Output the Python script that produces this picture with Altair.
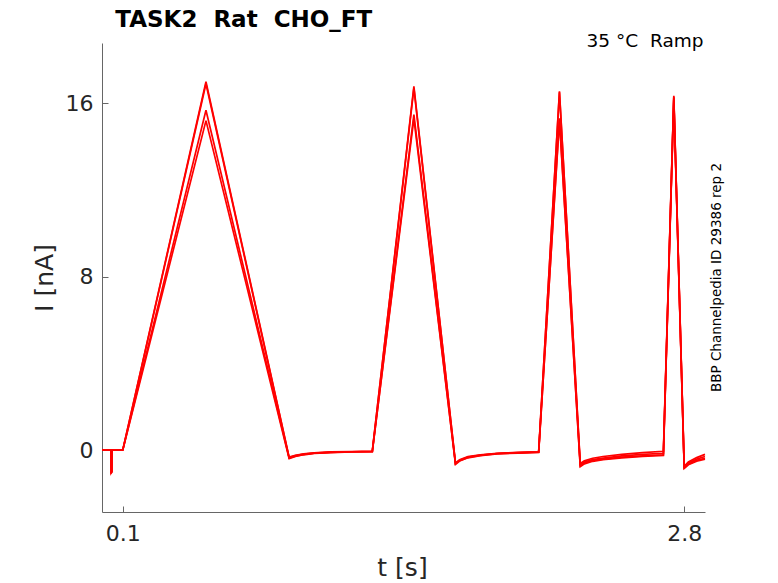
import altair as alt
import pandas as pd

# ---- data ----
t_s = [0.0, 0.043, 0.044, 0.047, 0.048, 0.1, 0.5, 0.9, 0.93, 0.97, 1.02, 1.1, 1.2, 1.3,
       1.5, 1.7, 1.72, 1.76, 1.82, 1.9, 2.0, 2.1, 2.2, 2.3, 2.32, 2.36, 2.41, 2.5, 2.6, 2.7,
       2.75, 2.8, 2.82, 2.86, 2.9]

sweep1 = [0, 0, -1.05, -1.0, 0, 0, 17.0, -0.33, -0.24, -0.18, -0.13, -0.09, -0.07, -0.05,
          16.78, -0.6, -0.45, -0.3, -0.22, -0.15, -0.11, -0.08, 16.55, -0.62, -0.5, -0.38,
          -0.3, -0.2, -0.12, -0.06, 16.34, -0.75, -0.55, -0.35, -0.2]
sweep2 = [0, 0, -1.02, -0.98, 0, 0, 16.9, -0.35, -0.26, -0.19, -0.14, -0.1, -0.08, -0.06,
          16.7, -0.62, -0.47, -0.32, -0.23, -0.16, -0.12, -0.09, 16.5, -0.68, -0.56, -0.44,
          -0.37, -0.27, -0.2, -0.15, 16.3, -0.79, -0.6, -0.42, -0.3]
sweep3 = [0, 0, -1.08, -1.02, 0, 0, 15.68, -0.37, -0.28, -0.2, -0.15, -0.11, -0.08, -0.07,
          15.48, -0.64, -0.49, -0.34, -0.25, -0.17, -0.13, -0.1, 15.3, -0.73, -0.6, -0.48,
          -0.42, -0.33, -0.27, -0.22, 16.25, -0.82, -0.65, -0.48, -0.38]
sweep4 = [0, 0, -1.06, -1.0, 0, 0, 15.2, -0.4, -0.3, -0.22, -0.16, -0.12, -0.09, -0.08,
          15.3, -0.66, -0.51, -0.36, -0.26, -0.18, -0.14, -0.11, 15.2, -0.77, -0.64, -0.52,
          -0.45, -0.36, -0.3, -0.25, 16.15, -0.85, -0.68, -0.52, -0.42]

x_ticks = [0.1, 2.8]
y_ticks = [0, 8, 16]
x_domain = [0.0, 2.9]
y_domain = [-2.86, 18.78]

NB = "\u00a0"
title_text = "TASK2" + NB + " Rat" + NB + " CHO_FT"
subtitle_text = "35 °C" + NB + " Ramp"
side_text = "BBP Channelpedia ID 29386 rep 2"

rows = []
for name, vals in [("1", sweep1), ("2", sweep2), ("3", sweep3), ("4", sweep4)]:
    for t, v in zip(t_s, vals):
        rows.append({"t": t, "I": v, "sweep": name})
df = pd.DataFrame(rows)

W, H = 603, 469
FONT = "DejaVu Sans"

xscale = alt.Scale(domain=x_domain, nice=False, zero=False)
yscale = alt.Scale(domain=y_domain, nice=False, zero=False)

lines = alt.Chart(df).mark_line(color="#ff0000", strokeWidth=1.7).encode(
    x=alt.X("t:Q", scale=xscale,
            axis=alt.Axis(orient="bottom", values=x_ticks, format=".1f", ticks=False, tickSize=0,
                          grid=False, domainColor="#666666", domainWidth=1,
                          labelFontSize=22, labelColor="#262626", labelFont=FONT,
                          labelPadding=11, title="t [s]", titleFontSize=25,
                          titleFont=FONT, titleFontWeight="normal", titleColor="#262626",
                          titleBaseline="alphabetic", titleY=63.5, titleX=300)),
    y=alt.Y("I:Q", scale=yscale,
            axis=alt.Axis(orient="left", values=y_ticks, format="d", ticks=False, tickSize=0,
                          grid=False, domainColor="#666666", domainWidth=1,
                          labelFontSize=22, labelColor="#262626", labelFont=FONT,
                          labelPadding=9, title="I [nA]", titleFontSize=25,
                          titleFont=FONT, titleFontWeight="normal", titleColor="#262626",
                          titleAngle=270, titleBaseline="alphabetic", titleX=-49.5,
                          titleY=H / 2)),
    detail="sweep:N",
)

tick_layer = alt.Chart(df).mark_line(strokeOpacity=0).encode(
    x=alt.X("t:Q", scale=xscale,
            axis=alt.Axis(orient="top", offset=-H, values=x_ticks, labels=False, domain=False,
                          grid=False, ticks=True, tickSize=6, tickColor="#666666",
                          title=None)),
    y=alt.Y("I:Q", scale=yscale,
            axis=alt.Axis(orient="right", offset=-W, values=y_ticks, labels=False, domain=False,
                          grid=False, ticks=True, tickSize=6, tickColor="#666666",
                          title=None)),
    detail="sweep:N",
)

ttl = alt.Chart(pd.DataFrame({"label": [title_text]})).mark_text(
    align="left", baseline="alphabetic", fontSize=23, font=FONT, fontWeight="bold",
    color="#000000"
).encode(text="label:N", x=alt.value(13.3), y=alt.value(-16.0))

sub = alt.Chart(pd.DataFrame({"label": [subtitle_text]})).mark_text(
    align="right", baseline="alphabetic", fontSize=18.5, font=FONT, color="#000000"
).encode(text="label:N", x=alt.value(601.5), y=alt.value(4.3))

side = alt.Chart(pd.DataFrame({"label": [side_text]})).mark_text(
    align="center", baseline="alphabetic", fontSize=13.5, font=FONT, color="#000000", angle=270
).encode(text="label:N", x=alt.value(618.5), y=alt.value(H / 2))

chart = alt.layer(lines, tick_layer, ttl, sub, side).resolve_axis(
    x="independent", y="independent"
).properties(
    width=W, height=H,
    background="white",
    autosize=alt.AutoSizeParams(type="none"),
    padding={"left": 94, "top": 35, "right": 60, "bottom": 71},
).configure_view(strokeWidth=0, stroke="transparent")

chart.save("out.html", embed_options={"renderer": "svg", "actions": False})
